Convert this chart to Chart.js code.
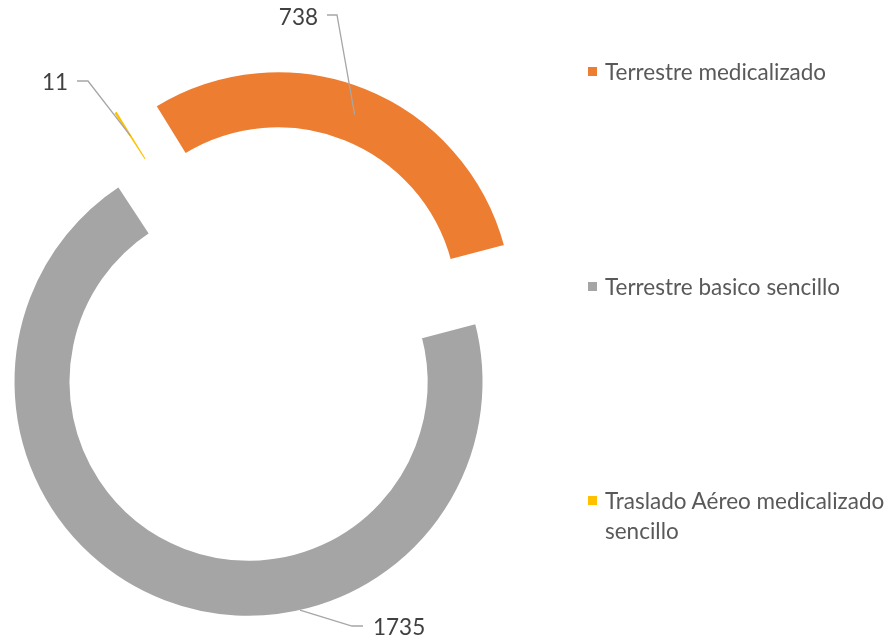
<!DOCTYPE html>
<html>
<head>
<meta charset="utf-8">
<script src="https://cdn.jsdelivr.net/npm/chart.js@4/dist/chart.umd.min.js"></script>
<style>
  html, body { margin: 0; padding: 0; background: #fff; }
  #wrap { position: relative; width: 889px; height: 641px; overflow: hidden; }
  #chart { position: absolute; left: 0; top: 0; }
  .leg { position: absolute; left: 588px; font: 22.5px Lato, sans-serif; color: #595959; line-height: 30px; }
  .leg i { position: absolute; left: 0; top: 10px; width: 9px; height: 9px; }
  .leg span { display: block; margin-left: 17px; }
</style>
</head>
<body>
<div id="wrap">
  <canvas id="chart" width="889" height="641"></canvas>
  <div id="legend"></div>
</div>
<script>
const categories = ['Terrestre medicalizado', 'Terrestre basico sencillo', 'Traslado Aéreo medicalizado sencillo'];
const values = [738, 1735, 11];
const colors = ['#ED7D31', '#A5A5A5', '#FFC000'];

// every slice is pulled out by the same distance (px)
const explode = 40.5;
const labelLayout = [
  { tx: 318, ty: 18, line: [[327, 15], [337, 15]], at: 0.5, ring: 'mid' },
  { tx: 373, ty: 628, line: [[363, 626], [352, 626]], at: 0.366, ring: 'outer', left: true },
  { tx: 68, ty: 83, line: [[77, 81], [88, 81]], at: 0.5, ring: 'mid' }
];
const legendTops = [57, 272, 486];

function shifted(el) {
  const half = (el.startAngle + el.endAngle) / 2;
  return [Math.cos(half) * explode, Math.sin(half) * explode];
}

// draw each arc moved out along its middle angle (like an exploded Excel doughnut)
const explodePlugin = {
  id: 'explode',
  beforeDatasetDraw(chart, args) {
    const ctx = chart.ctx;
    args.meta.data.forEach(el => {
      const [dx, dy] = shifted(el);
      ctx.save();
      ctx.translate(dx, dy);
      el.draw(ctx, chart.chartArea);
      ctx.restore();
    });
    return false;
  }
};

const labelPlugin = {
  id: 'labels',
  afterDraw(chart) {
    const ctx = chart.ctx;
    chart.getDatasetMeta(0).data.forEach((el, i) => {
      const lay = labelLayout[i];
      const [dx, dy] = shifted(el);
      const a = el.startAngle + (el.endAngle - el.startAngle) * lay.at;
      const r = lay.ring === 'outer' ? el.outerRadius - 2 : (el.innerRadius + el.outerRadius) / 2;
      const ax = el.x + dx + Math.cos(a) * r;
      const ay = el.y + dy + Math.sin(a) * r;
      ctx.save();
      ctx.strokeStyle = '#A6A6A6';
      ctx.lineWidth = 1.3;
      ctx.beginPath();
      ctx.moveTo(lay.line[0][0], lay.line[0][1]);
      ctx.lineTo(lay.line[1][0], lay.line[1][1]);
      ctx.lineTo(ax, ay);
      ctx.stroke();
      ctx.fillStyle = '#404040';
      ctx.font = '22.5px Lato, sans-serif';
      ctx.textBaseline = 'middle';
      ctx.textAlign = lay.left ? 'left' : 'right';
      ctx.fillText(String(values[i]), lay.tx, lay.ty);
      ctx.restore();
    });
  }
};

new Chart(document.getElementById('chart'), {
  type: 'doughnut',
  data: {
    labels: categories,
    datasets: [{ data: values, backgroundColor: colors, borderColor: '#ffffff', borderWidth: 4 }]
  },
  options: {
    responsive: false,
    animation: false,
    rotation: -31.7,
    radius: 236,
    cutout: '75%',
    layout: { padding: { left: 0, right: 363, top: 47, bottom: 0 } },
    plugins: { legend: { display: false }, tooltip: { enabled: false } }
  },
  plugins: [explodePlugin, labelPlugin]
});

const legendEl = document.getElementById('legend');
categories.forEach((c, i) => {
  const d = document.createElement('div');
  d.className = 'leg';
  d.style.top = legendTops[i] + 'px';
  const text = i === 2 ? 'Traslado Aéreo medicalizado<br>sencillo' : c;
  d.innerHTML = `<i style="background:${colors[i]}"></i><span>${text}</span>`;
  legendEl.appendChild(d);
});
</script>
</body>
</html>
